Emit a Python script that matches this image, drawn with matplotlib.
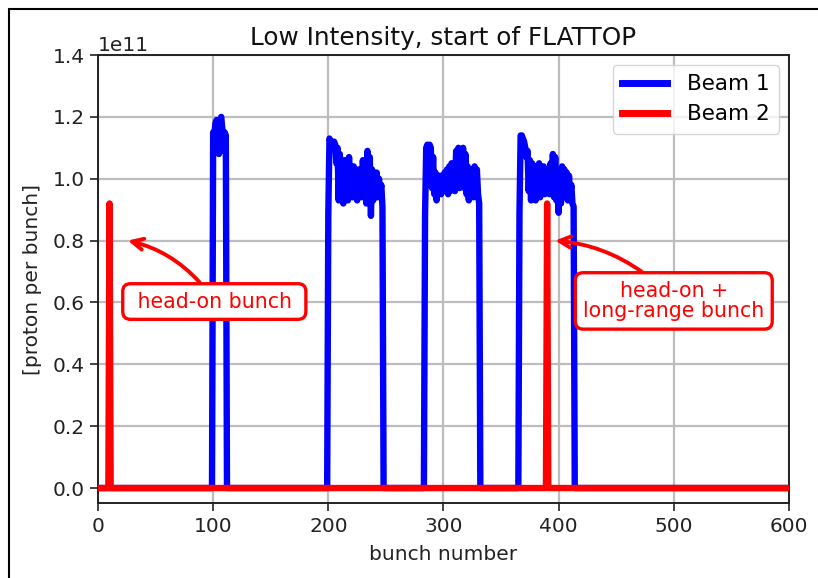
import numpy as np
import matplotlib
matplotlib.use("Agg")
import matplotlib.pyplot as plt
from matplotlib.patches import Rectangle

# ---- data (units of 1e11 protons per bunch) ----
n_slots = 601
train_starts = [100, 200, 284, 366]
train1 = [1.15, 1.14, 1.18, 1.19, 1.10, 1.08, 1.19, 1.20, 1.16, 1.09, 1.15, 1.14]
train2 = [0.89, 1.13, 1.12, 1.12, 1.11, 1.12, 1.11, 1.05,
          1.10, 0.93, 1.08, 0.95, 1.04, 0.92, 1.06, 0.97,
          1.02, 0.93, 1.07, 0.96, 1.03, 0.94, 1.04, 0.95,
          1.00, 0.93, 1.03, 0.96, 1.02, 0.94, 1.06, 0.97,
          1.04, 0.92, 1.09, 0.95, 1.07, 0.88, 1.03, 0.93,
          0.99, 0.96, 1.02, 0.94, 1.00, 0.95, 0.98, 0.91]
train3 = [0.88, 1.10, 1.11, 1.10, 1.11, 1.10, 0.97, 1.07,
          0.95, 1.02, 0.93, 1.00, 0.97, 1.01, 0.95, 1.00,
          0.96, 1.02, 0.97, 1.03, 0.95, 1.04, 0.96, 1.05,
          0.98, 1.03, 0.96, 1.09, 0.98, 1.10, 0.97, 1.09,
          1.00, 1.10, 0.97, 1.08, 0.95, 1.04, 0.93, 1.02,
          0.96, 1.03, 0.94, 1.04, 0.96, 1.03, 0.95, 0.92]
train4 = [0.89, 1.14, 1.14, 1.13, 1.12, 1.10, 1.07, 1.09,
          0.96, 1.06, 0.93, 1.05, 0.95, 1.04, 0.93, 1.03,
          0.97, 1.05, 0.94, 1.03, 0.96, 1.04, 0.95, 1.02,
          0.97, 1.03, 0.95, 1.05, 0.96, 1.08, 0.94, 1.07,
          0.93, 1.02, 0.89, 1.00, 0.92, 1.04, 0.94, 1.03,
          0.95, 1.02, 0.93, 1.01, 0.94, 0.98, 0.92, 0.91]
beam2_slots = [10, 390]
beam2_values = [0.92, 0.92]

slots = np.arange(n_slots)
beam1 = np.zeros(n_slots)
for start, tr in zip(train_starts, [train1, train2, train3, train4]):
    beam1[start:start + len(tr)] = np.array(tr)
beam2 = np.zeros(n_slots)
for s, v in zip(beam2_slots, beam2_values):
    beam2[s] = v
beam1 *= 1e11
beam2 *= 1e11

# ---- figure ----
fig = plt.figure(figsize=(8.18, 5.78), dpi=100)
ax = fig.add_axes([0.1198, 0.1289, 0.9645 - 0.1198, 0.9048 - 0.1289])

ax.plot(slots, beam1, color="blue", lw=4.6, label="Beam 1", zorder=3)
ax.plot(slots, beam2, color="red", lw=4.6, label="Beam 2", zorder=4)

ax.set_xlim(0, 600)
ax.set_ylim(-0.05e11, 1.4e11)
ax.set_xticks([0, 100, 200, 300, 400, 500, 600])
ax.set_yticks(np.arange(0, 1.41e11, 0.2e11))
ax.grid(True, color="#bdbdbd", lw=1.6, zorder=0)
ax.set_axisbelow(True)
ax.tick_params(labelsize=14.5, length=6, width=1.2, colors="#222222")
ax.yaxis.get_offset_text().set_fontsize(14.5)
for sp in ax.spines.values():
    sp.set_linewidth(1.4)
    sp.set_color("#222222")

ax.set_title("Low Intensity, start of FLATTOP", fontsize=17.8, pad=7,
             color="#111111")
ax.set_xlabel("bunch number", fontsize=14.5, labelpad=7, color="#222222")
ax.set_ylabel("[proton per bunch]", fontsize=14.5, labelpad=8, color="#222222")

leg = ax.legend(loc="upper right", fontsize=15.5, handlelength=2.1,
                borderpad=0.45, labelspacing=0.45, handletextpad=0.9,
                borderaxespad=0.45)
for l in leg.get_lines():
    l.set_linewidth(5)

bbox = dict(boxstyle="round,pad=0.38", fc="white", ec="red", lw=2.4)
ax.annotate(" head-on bunch ", xy=(26, 0.80e11), xytext=(101, 0.603e11),
            color="red", fontsize=14.8, ha="center", va="center", bbox=bbox,
            arrowprops=dict(arrowstyle="->", color="red", lw=2.8,
                            connectionstyle="arc3,rad=0.2",
                            mutation_scale=20, shrinkA=0, shrinkB=0),
            zorder=6)
ax.annotate("head-on +\nlong-range bunch", xy=(397, 0.80e11), xytext=(500, 0.605e11),
            color="red", fontsize=14.8, ha="center", va="center", bbox=bbox,
            linespacing=1.05,
            arrowprops=dict(arrowstyle="->", color="red", lw=2.8,
                            connectionstyle="arc3,rad=0.2",
                            mutation_scale=20, shrinkA=0, shrinkB=0),
            zorder=6)

# figure border (cropped at right/bottom)
fig.patches.append(Rectangle((9 / 818, -0.2), 1.5, 1.2 - 9 / 578, fill=False,
                             ec="black", lw=1.5, transform=fig.transFigure,
                             figure=fig))

fig.savefig("out.png", dpi=100)
